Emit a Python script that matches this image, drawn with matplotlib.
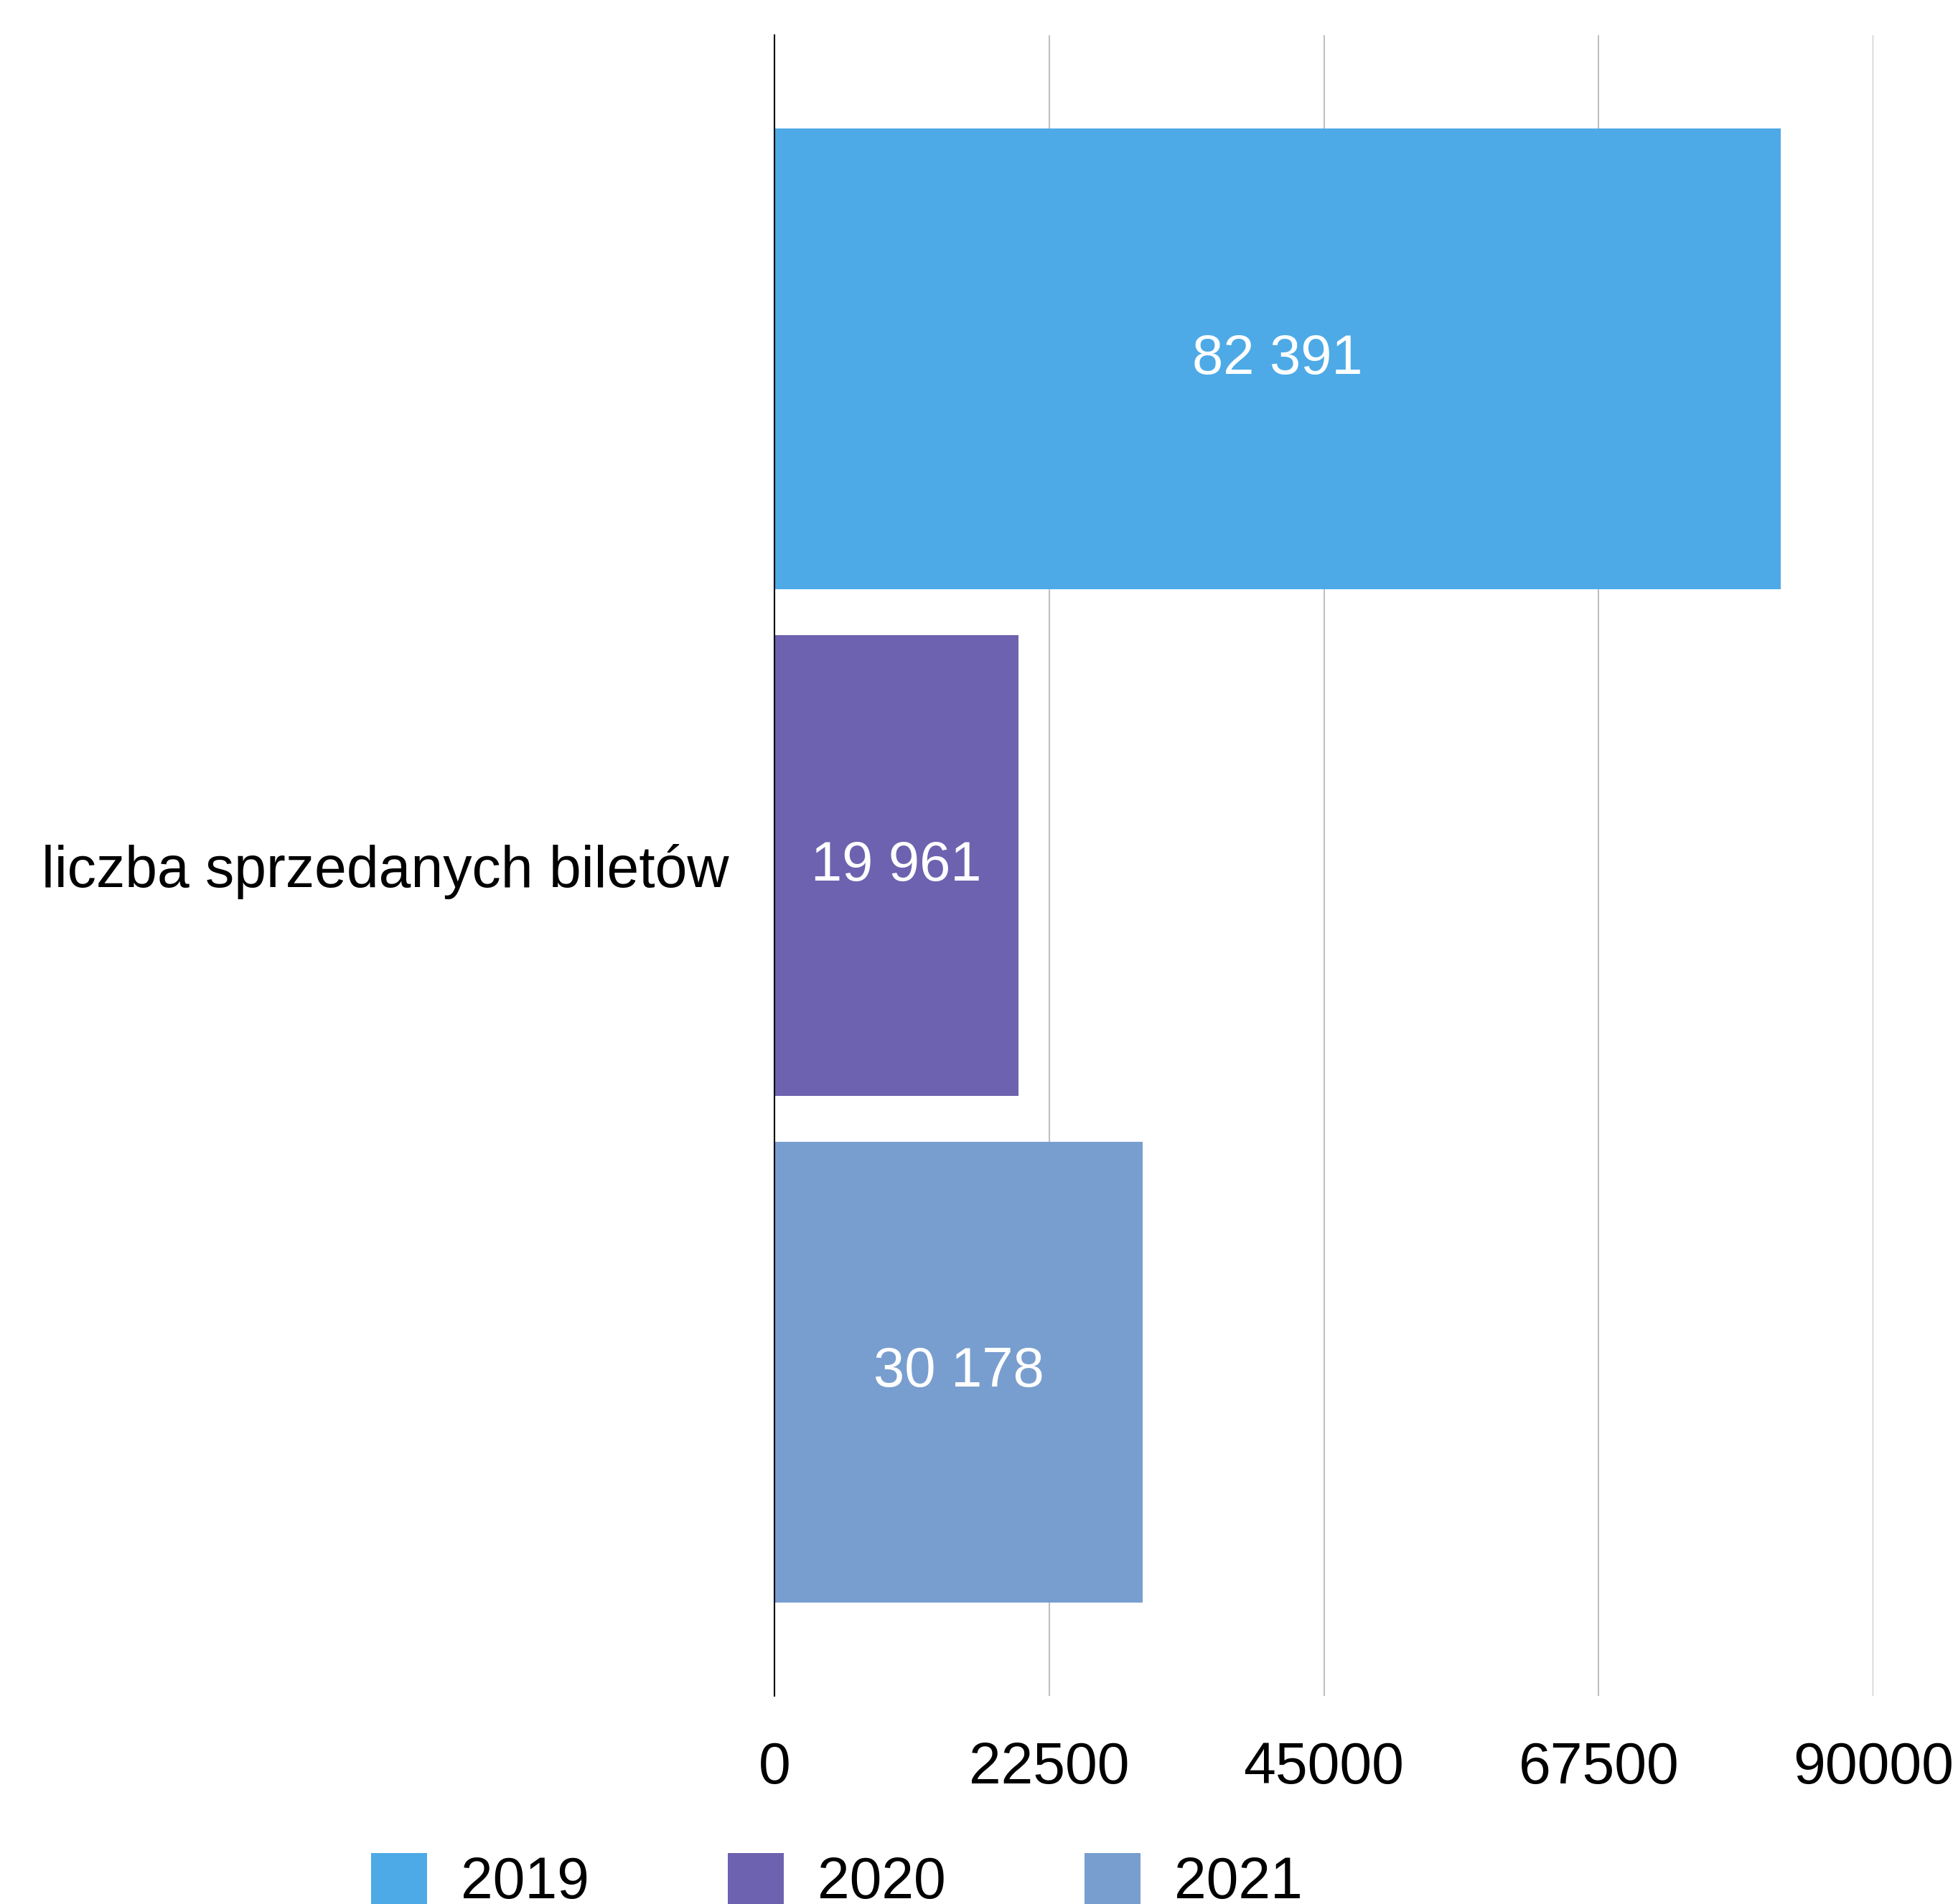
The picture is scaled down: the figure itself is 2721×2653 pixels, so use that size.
import matplotlib
matplotlib.use("Agg")
import matplotlib.pyplot as plt
import numpy as np

plt.rcParams['font.family'] = ['Liberation Sans', 'DejaVu Sans']

categories = ["liczba sprzedanych biletów"]
series_names = ["2019", "2020", "2021"]
values = [82391, 19961, 30178]
colors = ["#4DAAE7", "#6D62AF", "#789ECF"]
xticks = [0, 22500, 45000, 67500, 90000]

W, H = 2721, 2653
dpi = 100
fig = plt.figure(figsize=(W / dpi, H / dpi), dpi=dpi)
ax = fig.add_axes([1079 / W, 1 - 2363 / H, (2610 - 1079) / W, (2363 - 49) / H])

FS = 58
slot = 0.3
height = slot * 0.909
offsets = [-slot, 0, slot]
handles = []
for name, v, c, off in zip(series_names, values, colors, offsets):
    b = ax.barh([0 + off], [v], height=height, color=c, label=name, zorder=3)
    handles.append(b)
    ax.bar_label(b, labels=[f"{v:,}".replace(",", " ")], label_type='center',
                 color='white', fontsize=56, zorder=4)

ax.set_xlim(0, 90000)
ax.set_ylim(slot * 3.278 / 2, -slot * 3.278 / 2)
ax.set_xticks(xticks)
ax.set_xticklabels([str(t) for t in xticks], fontsize=FS)
ax.set_yticks([0])
ax.set_yticklabels(categories, fontsize=FS)
ax.tick_params(axis='x', length=0, pad=45)
ax.tick_params(axis='y', length=0, pad=46)
ax.grid(axis='x', color='#C0C0C0', linewidth=1.5, zorder=0)
ax.grid(axis='y', visible=False)
for s in ['top', 'right', 'bottom']:
    ax.spines[s].set_visible(False)
ax.spines['left'].set_color('black')
ax.spines['left'].set_linewidth(1.5)
ax.spines['left'].set_zorder(5)

fig.legend(handles=handles, labels=series_names, loc='upper left',
           bbox_to_anchor=(517 / W, 1 - 2582 / H), ncol=3, frameon=False,
           fontsize=FS, handlelength=0.97, handleheight=0.97, handletextpad=0.58,
           columnspacing=2.4, borderpad=0, borderaxespad=0)

fig.savefig("out.png", dpi=dpi, facecolor='white')
